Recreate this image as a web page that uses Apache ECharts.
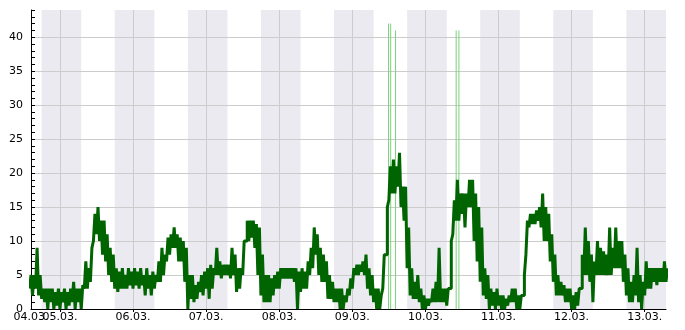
<!DOCTYPE html>
<html>
<head>
<meta charset="utf-8">
<script src="https://cdn.jsdelivr.net/npm/echarts@6/dist/echarts.min.js"></script>
<style>
html,body{margin:0;padding:0;background:#ffffff;}
#chart{width:685px;height:330px;}
</style>
</head>
<body>
<div id="chart"></div>
<script>
// x values are hours relative to 05.03. 00:00; one low and one high reading per hour
const startHour = -10;
const lows = [
  3, 2, 3, 2, 1.5, 1, 0, 1, 0, 0.5,
  0, 1, 0, 0.5, 1, 0, 1, 0, 3, 3,
  4, 10, 11, 10, 8, 7, 5, 4, 3, 2.5,
  3, 3, 3, 3.5, 3, 3.5, 3, 3.5, 2, 3,
  2, 3, 4, 4, 5, 7, 8, 9, 9, 7,
  7, 4, 0, 1.5, 1, 1.5, 2.5, 2, 3, 1.5,
  3, 5, 5, 4.5, 5, 5, 4.5, 5, 2.5, 3,
  5, 10, 10, 10.5, 9, 5, 2, 1, 1, 1,
  2, 3, 3, 4.5, 4.5, 4.5, 4.5, 4, 0, 2.5,
  3, 3, 5, 6, 8, 5, 4, 4, 1.5, 1.5,
  1, 1, 0, 0, 1, 2, 3, 5, 5, 5.5,
  5, 3, 2, 1, 0, 0, 3, 8, 16, 17,
  17, 18, 15, 13, 6, 2, 1.5, 1.5, 1, 0,
  0, 0.5, 1, 1, 1, 1, 1, 0.5, 3, 11,
  13, 13, 14, 12, 15, 15, 10, 7, 4, 2,
  1.5, 0, 0.5, 0, 0.5, 0, 0, 0.5, 1, 1,
  0, 0, 2, 8, 12, 12.5, 12.5, 13, 12, 10,
  10, 7, 4, 2, 2, 2, 1, 1, 0, 0,
  0.5, 3, 5, 5, 4, 1, 5, 5, 5, 5,
  5, 5, 6, 6, 6, 4, 2, 1, 1, 2,
  1, 0, 2, 3, 3, 4, 3.5, 4, 4, 4
];
const highs = [
  5, 5, 9, 5, 3, 3, 3, 3, 2.5, 3,
  2.5, 3, 2.5, 3, 4, 3, 3, 3.5, 7, 6,
  9, 14, 15, 13, 13, 11, 9, 8, 6, 5.5,
  6, 5, 6, 5.5, 6, 5.5, 6, 5, 6, 5,
  5.5, 5, 7, 9, 8, 10.5, 11, 12, 11, 10.5,
  10, 9, 5, 5, 3.5, 4, 5, 5.5, 6, 6.5,
  6, 9, 7, 6.5, 6.5, 6.5, 9, 8, 6, 6,
  10, 13, 13, 13, 12.5, 12, 8, 5, 5, 4.5,
  5, 5.5, 6, 6, 6, 6, 6, 6, 5.5, 6,
  5.5, 7, 9, 12, 11, 9, 8, 7, 5, 4,
  3, 3, 3, 2, 3, 4.5, 6, 6.5, 6.5, 7,
  8, 6, 5, 3, 3, 2, 8, 15, 21, 22,
  21, 23, 18, 18, 12, 6, 4, 5, 3, 2,
  1.5, 1.5, 3, 4, 9, 3, 3, 3, 10, 16,
  19, 17, 17, 17, 19, 19, 17, 15, 12, 6,
  5, 3, 2.5, 3, 2, 2, 1.5, 2, 3, 3,
  2, 2, 5, 13, 14, 14, 14.5, 15, 17, 15,
  14, 11, 8, 5, 4, 3.5, 3, 3, 2, 2.5,
  3, 8, 12, 10, 8, 7, 10, 9, 8.5, 8,
  12, 9, 12, 10, 10, 8, 6, 4, 5, 9,
  5, 4, 7, 6, 6, 6, 6, 6, 7, 6
];
const spikes = [[107.9, 42], [108.6, 42], [110.2, 41], [130.1, 41], [131.0, 41]];
const firstDayHour = -9.5;
const firstDayLabel = '04.03.';
const dayHours = [0, 24, 48, 72, 96, 120, 144, 168, 192];
const dayLabels = ['05.03.', '06.03.', '07.03.', '08.03.', '09.03.', '10.03.', '11.03.', '12.03.', '13.03.'];
const nightBands = [[-6, 7], [18, 31], [42, 55], [66, 79], [90, 103], [114, 127], [138, 151], [162, 175], [186, 199]];
const yMajorTicks = [0, 5, 10, 15, 20, 25, 30, 35, 40];
const yMinorTicks = [0,1,2,3,4,5,6,7,8,9,10,11,12,13,14,15,16,17,18,19,20,21,22,23,24,25,26,27,28,29,30,31,32,33,34,35,36,37,38,39,40,41,42,43,44];
const xMin = -9.5, xMax = 199, yMin = 0, yMax = 44;

const mainData = [];
lows.forEach((lo, i) => {
  mainData.push([startHour + i, lo]);
  mainData.push([startHour + i + 0.5, highs[i]]);
});
const spikeData = [];
spikes.forEach(s => { spikeData.push([s[0], 0], [s[0], s[1]], [s[0], '-']); });

const chart = echarts.init(document.getElementById('chart'), null, {renderer: 'canvas'});
const font = 'DejaVu Sans';
const labelStyle = {color: '#000000', fontFamily: font, fontSize: 11};
chart.setOption({
  animation: false,
  backgroundColor: '#ffffff',
  grid: {left: 31, right: 19, top: 10, bottom: 21},
  xAxis: [
    {
      type: 'value', min: xMin, max: xMax, position: 'bottom',
      axisLine: {show: true, onZero: false, lineStyle: {color: '#000000', width: 1}},
      axisTick: {show: true, inside: false, length: 3, customValues: dayHours, lineStyle: {color: '#000000'}},
      axisLabel: Object.assign({
        show: true, customValues: dayHours, showMinLabel: true, showMaxLabel: true, hideOverlap: false, margin: 3,
        formatter: v => { const i = dayHours.findIndex(d => Math.abs(d - v) < 1e-6); return i >= 0 ? dayLabels[i] : ''; }
      }, labelStyle),
      splitLine: {show: true, lineStyle: {color: '#cccccc', width: 1}}
    },
    {
      type: 'value', min: xMin, max: xMax, position: 'bottom',
      axisLine: {show: false, onZero: false},
      axisTick: {show: false, customValues: [firstDayHour]},
      axisLabel: Object.assign({
        show: true, customValues: [firstDayHour], showMinLabel: true, hideOverlap: false, margin: 3,
        formatter: () => firstDayLabel
      }, labelStyle),
      splitLine: {show: false}
    }
  ],
  yAxis: [
    {
      type: 'value', min: yMin, max: yMax, position: 'left',
      axisLine: {show: true, onZero: false, lineStyle: {color: '#000000', width: 1}},
      axisTick: {show: false, customValues: yMajorTicks},
      axisLabel: Object.assign({show: true, customValues: yMajorTicks, showMinLabel: true, margin: 8}, labelStyle),
      splitLine: {show: true, lineStyle: {color: '#cccccc', width: 1}}
    },
    {
      type: 'value', min: yMin, max: yMax, position: 'left',
      axisLine: {show: false, onZero: false},
      axisTick: {show: true, inside: true, length: 4, customValues: yMinorTicks, lineStyle: {color: '#000000', width: 1}},
      axisLabel: {show: false},
      splitLine: {show: false}
    }
  ],
  series: [
    {
      type: 'custom', z: -1, silent: true,
      encode: {x: [0, 1]},
      data: nightBands,
      renderItem: (params, api) => {
        const p0 = api.coord([api.value(0), yMax]);
        const p1 = api.coord([api.value(1), yMin]);
        const cs = params.coordSys;
        const r = echarts.graphic.clipRectByRect(
          {x: p0[0], y: p0[1], width: p1[0] - p0[0], height: p1[1] - p0[1]},
          {x: cs.x, y: cs.y, width: cs.width, height: cs.height});
        return r ? {type: 'rect', shape: r, style: {fill: '#eaeaf0'}} : null;
      }
    },
    {
      type: 'line', silent: true, showSymbol: false, symbol: 'none',
      data: spikeData, connectNulls: false,
      lineStyle: {color: '#7dd07d', width: 1}
    },
    {
      type: 'line', silent: true, showSymbol: false, symbol: 'none', step: 'end',
      data: mainData,
      lineStyle: {color: '#006400', width: 3}
    }
  ]
});
</script>
</body>
</html>
